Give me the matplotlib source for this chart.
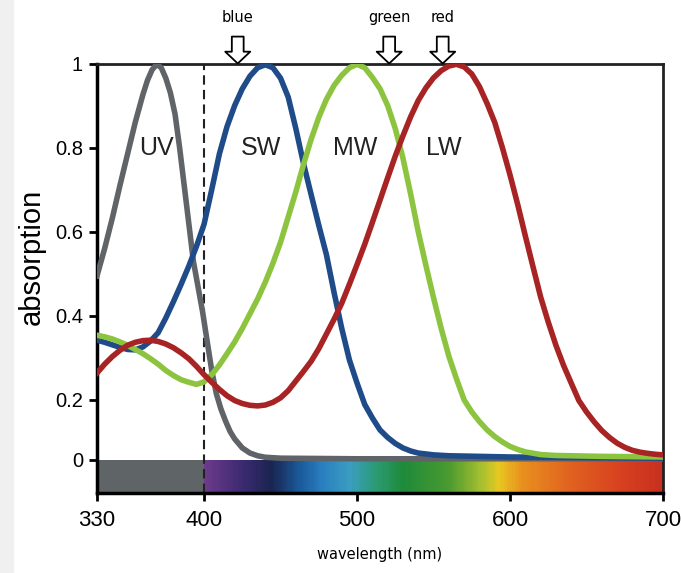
import numpy as np
import matplotlib
matplotlib.use('Agg')
import matplotlib.pyplot as plt
from matplotlib.colors import LinearSegmentedColormap
from matplotlib.patches import Rectangle

# absorption curves (wavelength nm -> relative absorption)
uv_nm = [330, 335, 340, 345, 350, 355, 360, 363, 366, 369, 372, 375, 378, 381, 384,
         387, 390, 393, 396, 399, 402, 405, 408, 411, 414, 417, 420, 425, 430, 435,
         440, 450, 500, 600, 700]
uv_abs = [0.495, 0.56, 0.632, 0.71, 0.785, 0.86, 0.926, 0.96, 0.985, 0.998, 0.99,
          0.965, 0.93, 0.88, 0.8, 0.71, 0.62, 0.53, 0.47, 0.41, 0.34, 0.27, 0.215,
          0.17, 0.13, 0.095, 0.07, 0.04, 0.023, 0.014, 0.009, 0.006, 0.004, 0.004, 0.004]

sw_nm = [330, 335, 340, 345, 350, 355, 360, 365, 370, 375, 380, 385, 390, 395, 400,
         405, 410, 415, 420, 425, 430, 435, 440, 445, 450, 455, 460, 465, 470, 475,
         480, 485, 490, 495, 500, 505, 510, 515, 520, 525, 530, 535, 540, 550, 560,
         580, 600, 650, 700]
sw_abs = [0.342, 0.337, 0.331, 0.325, 0.32, 0.319, 0.326, 0.34, 0.36, 0.395, 0.434,
          0.475, 0.518, 0.565, 0.618, 0.7, 0.785, 0.85, 0.9, 0.94, 0.97, 0.99, 0.997,
          0.99, 0.965, 0.92, 0.845, 0.762, 0.688, 0.615, 0.545, 0.455, 0.37, 0.295,
          0.24, 0.185, 0.14, 0.1, 0.075, 0.055, 0.04, 0.03, 0.023, 0.017, 0.014, 0.012,
          0.01, 0.008, 0.006]

mw_nm = [330, 335, 340, 345, 350, 355, 360, 365, 370, 375, 380, 385, 390, 395, 400,
         405, 410, 415, 420, 425, 430, 435, 440, 445, 450, 455, 460, 465, 470, 475,
         480, 485, 490, 495, 500, 505, 510, 515, 520, 525, 530, 535, 540, 545, 550,
         555, 560, 565, 570, 575, 580, 585, 590, 595, 600, 605, 610, 620, 630, 640,
         660, 700]
mw_abs = [0.354, 0.35, 0.345, 0.338, 0.33, 0.32, 0.31, 0.298, 0.285, 0.27, 0.258,
          0.248, 0.242, 0.237, 0.243, 0.26, 0.283, 0.31, 0.338, 0.37, 0.405, 0.44,
          0.48, 0.525, 0.575, 0.635, 0.695, 0.76, 0.82, 0.872, 0.915, 0.948, 0.972,
          0.99, 0.998, 0.99, 0.967, 0.94, 0.9, 0.845, 0.775, 0.69, 0.6, 0.52, 0.443,
          0.37, 0.304, 0.25, 0.2, 0.16, 0.128, 0.1, 0.078, 0.06, 0.045, 0.035, 0.027,
          0.018, 0.015, 0.014, 0.012, 0.01]

lw_nm = [330, 335, 340, 345, 350, 355, 360, 365, 370, 375, 380, 385, 390, 395, 400,
         405, 410, 415, 420, 425, 430, 435, 440, 445, 450, 455, 460, 465, 470, 475,
         480, 485, 490, 495, 500, 505, 510, 515, 520, 525, 530, 535, 540, 545, 550,
         555, 560, 565, 570, 575, 580, 585, 590, 595, 600, 605, 610, 615, 620, 625,
         630, 635, 640, 645, 650, 655, 660, 665, 670, 675, 680, 685, 690, 695, 700]
lw_abs = [0.264, 0.285, 0.303, 0.318, 0.33, 0.337, 0.341, 0.342, 0.339, 0.333, 0.324,
          0.312, 0.298, 0.28, 0.26, 0.242, 0.225, 0.21, 0.198, 0.188, 0.182, 0.18,
          0.183, 0.192, 0.205, 0.222, 0.245, 0.268, 0.292, 0.322, 0.357, 0.392, 0.43,
          0.475, 0.522, 0.57, 0.622, 0.675, 0.728, 0.78, 0.828, 0.873, 0.912, 0.942,
          0.966, 0.983, 0.994, 0.998, 0.992, 0.975, 0.945, 0.905, 0.86, 0.8, 0.735,
          0.665, 0.59, 0.517, 0.445, 0.385, 0.33, 0.282, 0.24, 0.198, 0.16, 0.127,
          0.098, 0.075, 0.056, 0.042, 0.032, 0.026, 0.022, 0.019, 0.017]

curve_labels = ['UV', 'SW', 'MW', 'LW']
label_nm = [369, 437, 499, 557]

arrow_names = ['blue', 'green', 'red']
arrow_nm = [422, 521, 556]

x_ticks = [330, 400, 500, 600, 700]
y_ticks = [0, 0.2, 0.4, 0.6, 0.8, 1]
y_ticklabels = ['0', '0.2', '0.4', '0.6', '0.8', '1']

# visible spectrum colours for the bar under the plot
spec_nm = [400, 425, 443, 462, 477, 495, 513, 530, 560, 582, 593, 608, 641, 674, 700]
spec_col = ['#6b3a8a', '#3a2a70', '#1a2450', '#1a5a9a', '#2a7fc0', '#3a9ec0', '#2a9a70',
            '#1e8a3a', '#4a9a30', '#a8c030', '#e8c820', '#e8901e', '#e06020', '#d84020',
            '#c83020']

plt.rcParams['font.family'] = ['Liberation Sans', 'DejaVu Sans']

fig = plt.figure(figsize=(6.81, 5.73), dpi=100, facecolor='white')
fig.patches.append(Rectangle((0, 0), 13 / 681, 1, transform=fig.transFigure,
                             color='#f0f0f0', zorder=-10))
ax = fig.add_axes([97 / 681, 80 / 573, 566 / 681, 429.5 / 573])


# the 0..0.2 band of the original axis is squeezed
def fwd(y):
    y = np.asarray(y, dtype=float)
    return np.where(y >= 0.2, y, 0.2 + (y - 0.2) * 0.714)


def inv(u):
    u = np.asarray(u, dtype=float)
    return np.where(u >= 0.2, u, 0.2 + (u - 0.2) / 0.714)


ax.set_yscale('function', functions=(fwd, inv))
ax.set_xlim(330, 700)
ax.set_ylim(-0.11, 1.0)

# spectrum bar
cmap = LinearSegmentedColormap.from_list(
    'spec', [((n - 400) / 300, c) for n, c in zip(spec_nm, spec_col)])
xs = np.linspace(400, 700, 301)
ax.pcolormesh(xs, [-0.11, 0.0], np.linspace(0, 1, 300)[None, :], cmap=cmap,
              shading='flat', zorder=1)
ax.fill_between([330, 400], -0.11, 0.0, color='#5f6467', lw=0, zorder=1)

ax.axvline(400, color='#222222', lw=1.5, ls=(0, (4.5, 2.5)), zorder=2)

lw = 4.0
ax.plot(uv_nm, uv_abs, color='#606468', lw=lw, solid_joinstyle='round', zorder=3)
ax.plot(sw_nm, sw_abs, color='#1f4b88', lw=lw, solid_joinstyle='round', zorder=3)
ax.plot(mw_nm, mw_abs, color='#8dc43f', lw=lw, solid_joinstyle='round', zorder=3)
ax.plot(lw_nm, lw_abs, color='#a82424', lw=lw, solid_joinstyle='round', zorder=3)

for name, x in zip(curve_labels, label_nm):
    ax.text(x, 0.8, name, fontsize=18, ha='center', va='center', color='#222222', zorder=4)

for name, x in zip(arrow_names, arrow_nm):
    ax.annotate('', xy=(x, 1.0), xytext=(x, 1.064), annotation_clip=False,
                arrowprops=dict(arrowstyle='simple,head_length=0.85,head_width=1.8,tail_width=0.85',
                                mutation_scale=10, fc='white', ec='black', lw=1.3,
                                shrinkA=0, shrinkB=0))
    ax.text(x, 1.11, name, fontsize=10.5, ha='center', va='center',
            family='DejaVu Sans', clip_on=False)

for side in ['left', 'bottom']:
    ax.spines[side].set_linewidth(2.5)
for side in ['top', 'right']:
    ax.spines[side].set_linewidth(2.0)
    ax.spines[side].set_color('#222222')

ax.set_xticks(x_ticks)
ax.set_yticks(y_ticks)
ax.set_yticklabels(y_ticklabels)
ax.yaxis.set_minor_locator(matplotlib.ticker.NullLocator())
ax.tick_params(axis='both', direction='out', length=6, width=2, pad=4)
ax.tick_params(axis='x', labelsize=16, pad=6)
ax.tick_params(axis='y', labelsize=14.5)

ax.set_ylabel('absorption', fontsize=21)
ax.yaxis.set_label_coords(-0.09, 0.55)
ax.set_xlabel('wavelength (nm)', fontsize=10.5, family='DejaVu Sans', labelpad=12)

fig.savefig('out.png', dpi=100, facecolor='white')
